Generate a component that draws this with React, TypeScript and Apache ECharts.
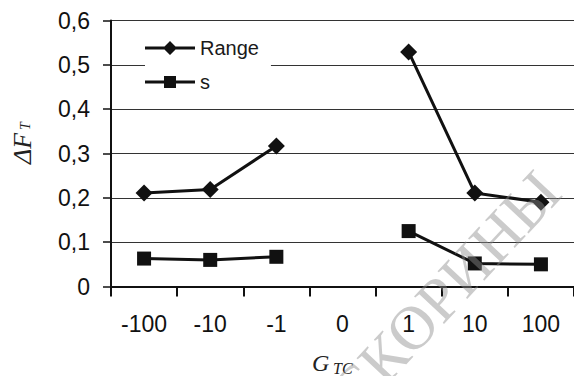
import React, { useEffect, useRef } from 'react';
import * as echarts from 'echarts';

const categories = ['-100', '-10', '-1', '0', '1', '10', '100'];
const rangeValues = [0.211, 0.219, 0.317, null, 0.529, 0.211, 0.19];
const sValues = [0.063, 0.06, 0.067, null, 0.125, 0.052, 0.05];
const seriesNames = ['Range', 's'];
const yMin = 0;
const yMax = 0.6;
const yStep = 0.1;

const fmtY = (v: number) => (v === 0 ? '0' : v.toFixed(1).replace('.', ','));

const rangeIcon =
  'path://M0,5.5 L19.5,5.5 L25,0 L30.5,5.5 L50,5.5 L50,8.5 L30.5,8.5 L25,14 L19.5,8.5 L0,8.5 Z';
const sIcon =
  'path://M0,4.5 L19,4.5 L19,0 L31,0 L31,4.5 L50,4.5 L50,7.5 L31,7.5 L31,12 L19,12 L19,7.5 L0,7.5 Z';

export default function App() {
  const ref = useRef<HTMLDivElement>(null);
  useEffect(() => {
    if (!ref.current) return;
    const chart = echarts.init(ref.current, undefined, { renderer: 'svg' });
    const sans = '"Liberation Sans", Arial, sans-serif';
    const serif = '"Liberation Serif", "Times New Roman", serif';
    chart.setOption({
      animation: false,
      backgroundColor: '#ffffff',
      grid: { left: 111, right: 0, top: 20.5, bottom: 89.5, containLabel: false },
      legend: {
        show: true,
        orient: 'vertical',
        left: 145,
        top: 34,
        itemWidth: 50,
        itemHeight: 20,
        itemGap: 14,
        backgroundColor: '#ffffff',
        padding: [4, 12, 4, 0],
        itemStyle: { color: '#111' },
        textStyle: { fontSize: 20, color: '#1a1a1a', fontFamily: sans },
        data: [
          { name: seriesNames[0], icon: rangeIcon },
          { name: seriesNames[1], icon: sIcon },
        ],
      },
      xAxis: {
        type: 'category',
        data: categories,
        boundaryGap: true,
        axisLine: { show: true, onZero: false, lineStyle: { color: '#111', width: 2 } },
        axisTick: { show: true, length: 10, interval: 0, lineStyle: { color: '#111', width: 2 } },
        axisLabel: { margin: 26, fontSize: 23, color: '#111', fontFamily: sans, interval: 0 },
        splitLine: { show: false },
      },
      yAxis: {
        type: 'value',
        min: yMin,
        max: yMax,
        interval: yStep,
        axisLine: { show: true, lineStyle: { color: '#111', width: 2 } },
        axisTick: { show: true, length: 8, lineStyle: { color: '#111', width: 1.5 } },
        axisLabel: { margin: 21, fontSize: 23, color: '#111', fontFamily: sans, formatter: fmtY },
        splitLine: { show: true, lineStyle: { color: '#333', width: 1.2 } },
      },
      series: [
        {
          name: seriesNames[0],
          type: 'line',
          data: rangeValues,
          connectNulls: false,
          symbol: 'diamond',
          symbolSize: 17,
          lineStyle: { color: '#111', width: 3 },
          itemStyle: { color: '#111' },
          z: 3,
        },
        {
          name: seriesNames[1],
          type: 'line',
          data: sValues,
          connectNulls: false,
          symbol: 'rect',
          symbolSize: 14,
          lineStyle: { color: '#111', width: 3 },
          itemStyle: { color: '#111' },
          z: 3,
        },
      ],
      graphic: [
        {
          type: 'text',
          x: 445,
          y: 292,
          rotation: (47 * Math.PI) / 180,
          silent: true,
          z: 10,
          style: {
            text: 'СКОРИНЫ',
            font: '62px ' + serif,
            fill: 'rgba(140,140,140,0.45)',
            align: 'center',
            verticalAlign: 'middle',
          },
        },
        {
          type: 'group',
          x: 22,
          y: 164,
          rotation: Math.PI / 2,
          children: [
            {
              type: 'text',
              x: 0,
              y: 0,
              style: {
                text: 'ΔF',
                font: 'italic 26px ' + serif,
                fill: '#222',
                align: 'left',
                verticalAlign: 'middle',
              },
            },
            {
              type: 'text',
              x: 34,
              y: 3,
              style: {
                text: 'T',
                font: 'italic 14px ' + serif,
                fill: '#222',
                align: 'left',
                verticalAlign: 'middle',
              },
            },
          ],
        },
        {
          type: 'text',
          x: 312,
          y: 363,
          style: {
            text: 'G',
            font: 'italic 24px ' + serif,
            fill: '#222',
            align: 'left',
            verticalAlign: 'middle',
          },
        },
        {
          type: 'text',
          x: 333,
          y: 368,
          style: {
            text: 'TC',
            font: 'italic 16px ' + serif,
            fill: '#222',
            align: 'left',
            verticalAlign: 'middle',
          },
        },
      ],
    });
    return () => chart.dispose();
  }, []);
  return (
    <div
      ref={ref}
      style={{ position: 'fixed', left: 0, top: 0, width: 574, height: 376, background: '#fff' }}
    />
  );
}
